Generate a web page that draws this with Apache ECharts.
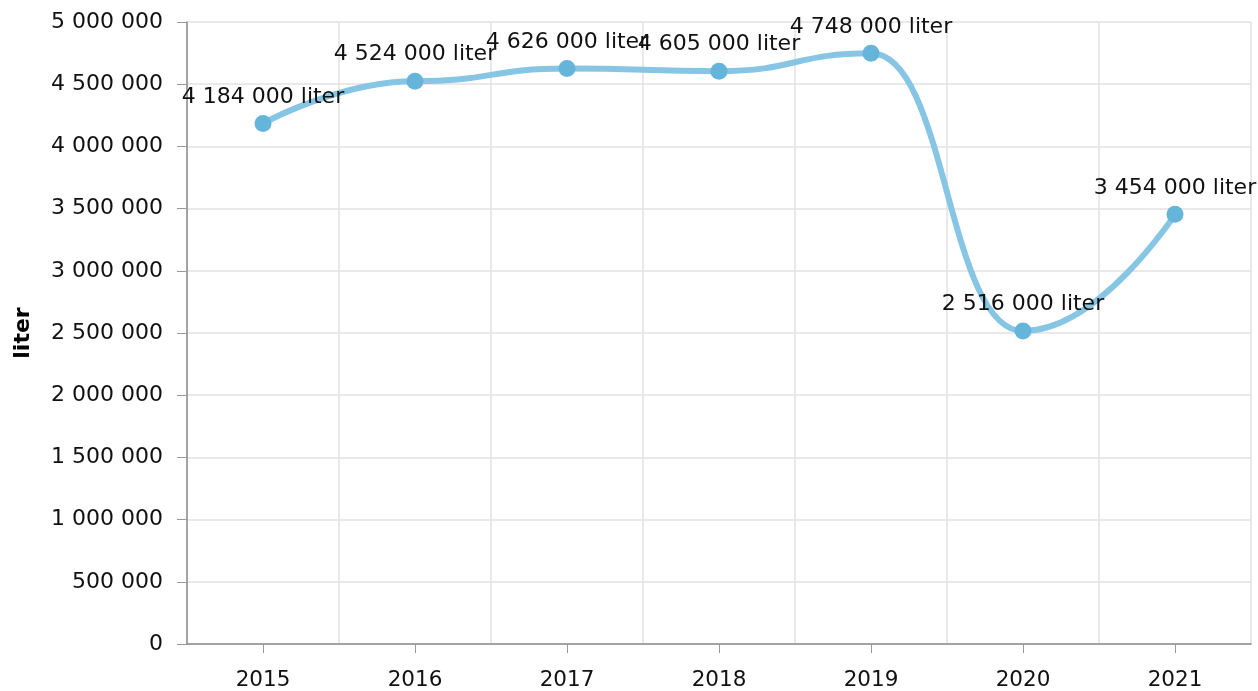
<!DOCTYPE html>
<html>
<head>
<meta charset="utf-8">
<script src="https://cdn.jsdelivr.net/npm/echarts@6/dist/echarts.min.js"></script>
<style>
html,body{margin:0;padding:0;background:#fff;}
#chart{width:1258px;height:691px;}
</style>
</head>
<body>
<div id="chart"></div>
<script>
const years = ['2015','2016','2017','2018','2019','2020','2021'];
const liters = [4184000, 4524000, 4626000, 4605000, 4748000, 2516000, 3454000];
const unit = 'liter';
const yTicks = { min: 0, max: 5000000, interval: 500000 };

function fmt(v) {
  return String(Math.round(v)).replace(/\B(?=(\d{3})+(?!\d))/g, ' ');
}

const FONT = 'DejaVu Sans';
const chart = echarts.init(document.getElementById('chart'), null, { renderer: 'canvas' });
chart.setOption({
  animation: false,
  backgroundColor: '#fff',
  textStyle: { fontFamily: FONT },
  grid: { left: 187, right: 7, top: 22, bottom: 47, containLabel: false, outerBoundsMode: 'none' },
  xAxis: {
    type: 'category',
    data: years,
    boundaryGap: true,
    axisLine: { show: true, lineStyle: { color: '#8c8c8c', width: 1.5 } },
    axisTick: { show: true, alignWithLabel: true, length: 9, lineStyle: { color: '#999' } },
    axisLabel: { color: '#111', fontFamily: FONT, fontSize: 21.5, margin: 25 },
    splitLine: { show: true, lineStyle: { color: '#e2e2e2', width: 1.5 } }
  },
  yAxis: {
    type: 'value',
    min: yTicks.min,
    max: yTicks.max,
    interval: yTicks.interval,
    name: unit,
    nameLocation: 'middle',
    nameGap: 153,
    nameRotate: 90,
    nameTextStyle: { color: '#000', fontFamily: FONT, fontSize: 22, fontWeight: 'bold' },
    axisLine: { show: true, lineStyle: { color: '#8c8c8c', width: 1.5 } },
    axisTick: { show: true, length: 10, lineStyle: { color: '#999' } },
    axisLabel: { color: '#111', fontFamily: FONT, fontSize: 22, margin: 24, formatter: fmt },
    splitLine: { show: true, lineStyle: { color: '#e2e2e2', width: 1.5 } }
  },
  series: [{
    type: 'line',
    data: liters,
    smooth: 0.5,
    smoothMonotone: 'x',
    symbol: 'circle',
    symbolSize: 17,
    lineStyle: { color: '#86c5e4', width: 6 },
    itemStyle: { color: '#65b5db' },
    label: {
      show: true,
      position: 'top',
      distance: 7,
      color: '#111',
      fontFamily: FONT,
      fontSize: 22,
      formatter: p => fmt(p.value) + ' ' + unit
    }
  }]
});
</script>
</body>
</html>
